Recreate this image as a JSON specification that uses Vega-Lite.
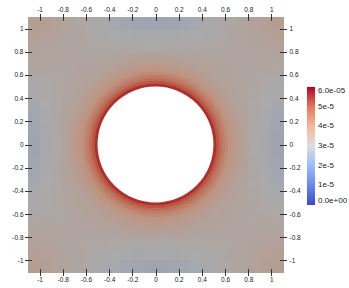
{
  "$schema": "https://vega.github.io/schema/vega-lite/v6.json",
  "autosize": "none",
  "width": 255,
  "height": 255,
  "padding": {"left": 28, "top": 17, "right": 66, "bottom": 16},
  "config": {
    "view": {"stroke": "#444444", "strokeWidth": 1, "fill": "#aca8a6"},
    "font": "Liberation Sans"
  },
  "datasets": {
    "legend": [{"x": -0.1, "y": -0.1, "v": 3}],
    "disks": [
      {"r": 0.8, "v": 3.35}, {"r": 0.775, "v": 3.41}, {"r": 0.75, "v": 3.48}, {"r": 0.725, "v": 3.57},
      {"r": 0.7, "v": 3.67}, {"r": 0.675, "v": 3.8}, {"r": 0.65, "v": 3.96}, {"r": 0.625, "v": 4.15},
      {"r": 0.6, "v": 4.4}, {"r": 0.575, "v": 4.7}, {"r": 0.55, "v": 5.1}, {"r": 0.525, "v": 5.65}
    ],
    "hole": [{"r": 0.5}],
    "g": [
      {"x":-1.1,"y":0,"v":2.78},{"x":-1,"y":0,"v":2.92},{"x":-0.9,"y":0,"v":3.1},{"x":-0.8,"y":0,"v":3.38},{"x":0.7,"y":0,"v":3.38},{"x":0.8,"y":0,"v":3.1},{"x":0.9,"y":0,"v":2.92},{"x":1,"y":0,"v":2.78},
      {"x":-1.1,"y":-0.1,"v":2.78},{"x":-1,"y":-0.1,"v":2.92},{"x":-0.9,"y":-0.1,"v":3.1},{"x":-0.8,"y":-0.1,"v":3.38},{"x":0.7,"y":-0.1,"v":3.38},{"x":0.8,"y":-0.1,"v":3.1},{"x":0.9,"y":-0.1,"v":2.92},{"x":1,"y":-0.1,"v":2.78},
      {"x":-1.1,"y":0.1,"v":2.8},{"x":-1,"y":0.1,"v":2.94},{"x":-0.9,"y":0.1,"v":3.11},{"x":-0.8,"y":0.1,"v":3.36},{"x":0.7,"y":0.1,"v":3.36},{"x":0.8,"y":0.1,"v":3.11},{"x":0.9,"y":0.1,"v":2.94},{"x":1,"y":0.1,"v":2.8},
      {"x":-1.1,"y":-0.2,"v":2.8},{"x":-1,"y":-0.2,"v":2.94},{"x":-0.9,"y":-0.2,"v":3.11},{"x":-0.8,"y":-0.2,"v":3.36},{"x":0.7,"y":-0.2,"v":3.36},{"x":0.8,"y":-0.2,"v":3.11},{"x":0.9,"y":-0.2,"v":2.94},{"x":1,"y":-0.2,"v":2.8},
      {"x":-1.1,"y":0.2,"v":2.85},{"x":-1,"y":0.2,"v":2.96},{"x":-0.9,"y":0.2,"v":3.11},{"x":-0.8,"y":0.2,"v":3.33},{"x":0.7,"y":0.2,"v":3.33},{"x":0.8,"y":0.2,"v":3.11},{"x":0.9,"y":0.2,"v":2.96},{"x":1,"y":0.2,"v":2.85},
      {"x":-1.1,"y":-0.3,"v":2.85},{"x":-1,"y":-0.3,"v":2.96},{"x":-0.9,"y":-0.3,"v":3.11},{"x":-0.8,"y":-0.3,"v":3.33},{"x":0.7,"y":-0.3,"v":3.33},{"x":0.8,"y":-0.3,"v":3.11},{"x":0.9,"y":-0.3,"v":2.96},{"x":1,"y":-0.3,"v":2.85},
      {"x":-1.1,"y":0.3,"v":2.91},{"x":-1,"y":0.3,"v":3.0},{"x":-0.9,"y":0.3,"v":3.12},{"x":-0.8,"y":0.3,"v":3.29},{"x":-0.7,"y":0.3,"v":3.54},{"x":0.6,"y":0.3,"v":3.54},{"x":0.7,"y":0.3,"v":3.29},{"x":0.8,"y":0.3,"v":3.12},{"x":0.9,"y":0.3,"v":3.0},{"x":1,"y":0.3,"v":2.91},
      {"x":-1.1,"y":-0.4,"v":2.91},{"x":-1,"y":-0.4,"v":3.0},{"x":-0.9,"y":-0.4,"v":3.12},{"x":-0.8,"y":-0.4,"v":3.29},{"x":-0.7,"y":-0.4,"v":3.54},{"x":0.6,"y":-0.4,"v":3.54},{"x":0.7,"y":-0.4,"v":3.29},{"x":0.8,"y":-0.4,"v":3.12},{"x":0.9,"y":-0.4,"v":3.0},{"x":1,"y":-0.4,"v":2.91},
      {"x":-1.1,"y":0.4,"v":2.98},{"x":-1,"y":0.4,"v":3.06},{"x":-0.9,"y":0.4,"v":3.15},{"x":-0.8,"y":0.4,"v":3.26},{"x":-0.7,"y":0.4,"v":3.43},{"x":0.6,"y":0.4,"v":3.43},{"x":0.7,"y":0.4,"v":3.26},{"x":0.8,"y":0.4,"v":3.15},{"x":0.9,"y":0.4,"v":3.06},{"x":1,"y":0.4,"v":2.98},
      {"x":-1.1,"y":-0.5,"v":2.98},{"x":-1,"y":-0.5,"v":3.06},{"x":-0.9,"y":-0.5,"v":3.15},{"x":-0.8,"y":-0.5,"v":3.26},{"x":-0.7,"y":-0.5,"v":3.43},{"x":0.6,"y":-0.5,"v":3.43},{"x":0.7,"y":-0.5,"v":3.26},{"x":0.8,"y":-0.5,"v":3.15},{"x":0.9,"y":-0.5,"v":3.06},{"x":1,"y":-0.5,"v":2.98},
      {"x":-1.1,"y":0.5,"v":3.07},{"x":-1,"y":0.5,"v":3.12},{"x":-0.9,"y":0.5,"v":3.18},{"x":-0.8,"y":0.5,"v":3.25},{"x":-0.7,"y":0.5,"v":3.34},{"x":-0.6,"y":0.5,"v":3.48},{"x":0.5,"y":0.5,"v":3.48},{"x":0.6,"y":0.5,"v":3.34},{"x":0.7,"y":0.5,"v":3.25},{"x":0.8,"y":0.5,"v":3.18},{"x":0.9,"y":0.5,"v":3.12},{"x":1,"y":0.5,"v":3.07},
      {"x":-1.1,"y":-0.6,"v":3.07},{"x":-1,"y":-0.6,"v":3.12},{"x":-0.9,"y":-0.6,"v":3.18},{"x":-0.8,"y":-0.6,"v":3.25},{"x":-0.7,"y":-0.6,"v":3.34},{"x":-0.6,"y":-0.6,"v":3.48},{"x":0.5,"y":-0.6,"v":3.48},{"x":0.6,"y":-0.6,"v":3.34},{"x":0.7,"y":-0.6,"v":3.25},{"x":0.8,"y":-0.6,"v":3.18},{"x":0.9,"y":-0.6,"v":3.12},{"x":1,"y":-0.6,"v":3.07},
      {"x":-1.1,"y":0.6,"v":3.16},{"x":-1,"y":0.6,"v":3.19},{"x":-0.9,"y":0.6,"v":3.21},{"x":-0.8,"y":0.6,"v":3.24},{"x":-0.7,"y":0.6,"v":3.28},{"x":-0.6,"y":0.6,"v":3.34},{"x":-0.5,"y":0.6,"v":3.43},{"x":-0.4,"y":0.6,"v":3.54},{"x":0.3,"y":0.6,"v":3.54},{"x":0.4,"y":0.6,"v":3.43},{"x":0.5,"y":0.6,"v":3.34},{"x":0.6,"y":0.6,"v":3.28},{"x":0.7,"y":0.6,"v":3.24},{"x":0.8,"y":0.6,"v":3.21},{"x":0.9,"y":0.6,"v":3.19},{"x":1,"y":0.6,"v":3.16},
      {"x":-1.1,"y":-0.7,"v":3.16},{"x":-1,"y":-0.7,"v":3.19},{"x":-0.9,"y":-0.7,"v":3.21},{"x":-0.8,"y":-0.7,"v":3.24},{"x":-0.7,"y":-0.7,"v":3.28},{"x":-0.6,"y":-0.7,"v":3.34},{"x":-0.5,"y":-0.7,"v":3.43},{"x":-0.4,"y":-0.7,"v":3.54},{"x":0.3,"y":-0.7,"v":3.54},{"x":0.4,"y":-0.7,"v":3.43},{"x":0.5,"y":-0.7,"v":3.34},{"x":0.6,"y":-0.7,"v":3.28},{"x":0.7,"y":-0.7,"v":3.24},{"x":0.8,"y":-0.7,"v":3.21},{"x":0.9,"y":-0.7,"v":3.19},{"x":1,"y":-0.7,"v":3.16},
      {"x":-1.1,"y":0.7,"v":3.26},{"x":-1,"y":0.7,"v":3.26},{"x":-0.9,"y":0.7,"v":3.25},{"x":-0.8,"y":0.7,"v":3.24},{"x":-0.7,"y":0.7,"v":3.24},{"x":-0.6,"y":0.7,"v":3.25},{"x":-0.5,"y":0.7,"v":3.26},{"x":-0.4,"y":0.7,"v":3.29},{"x":-0.3,"y":0.7,"v":3.33},{"x":-0.2,"y":0.7,"v":3.36},{"x":-0.1,"y":0.7,"v":3.38},{"x":0,"y":0.7,"v":3.38},{"x":0.1,"y":0.7,"v":3.36},{"x":0.2,"y":0.7,"v":3.33},{"x":0.3,"y":0.7,"v":3.29},{"x":0.4,"y":0.7,"v":3.26},{"x":0.5,"y":0.7,"v":3.25},{"x":0.6,"y":0.7,"v":3.24},{"x":0.7,"y":0.7,"v":3.24},{"x":0.8,"y":0.7,"v":3.25},{"x":0.9,"y":0.7,"v":3.26},{"x":1,"y":0.7,"v":3.26},
      {"x":-1.1,"y":-0.8,"v":3.26},{"x":-1,"y":-0.8,"v":3.26},{"x":-0.9,"y":-0.8,"v":3.25},{"x":-0.8,"y":-0.8,"v":3.24},{"x":-0.7,"y":-0.8,"v":3.24},{"x":-0.6,"y":-0.8,"v":3.25},{"x":-0.5,"y":-0.8,"v":3.26},{"x":-0.4,"y":-0.8,"v":3.29},{"x":-0.3,"y":-0.8,"v":3.33},{"x":-0.2,"y":-0.8,"v":3.36},{"x":-0.1,"y":-0.8,"v":3.38},{"x":0,"y":-0.8,"v":3.38},{"x":0.1,"y":-0.8,"v":3.36},{"x":0.2,"y":-0.8,"v":3.33},{"x":0.3,"y":-0.8,"v":3.29},{"x":0.4,"y":-0.8,"v":3.26},{"x":0.5,"y":-0.8,"v":3.25},{"x":0.6,"y":-0.8,"v":3.24},{"x":0.7,"y":-0.8,"v":3.24},{"x":0.8,"y":-0.8,"v":3.25},{"x":0.9,"y":-0.8,"v":3.26},{"x":1,"y":-0.8,"v":3.26},
      {"x":-1.1,"y":0.8,"v":3.36},{"x":-1,"y":0.8,"v":3.33},{"x":-0.9,"y":0.8,"v":3.29},{"x":-0.8,"y":0.8,"v":3.25},{"x":-0.7,"y":0.8,"v":3.21},{"x":-0.6,"y":0.8,"v":3.18},{"x":-0.5,"y":0.8,"v":3.15},{"x":-0.4,"y":0.8,"v":3.12},{"x":-0.3,"y":0.8,"v":3.11},{"x":-0.2,"y":0.8,"v":3.11},{"x":-0.1,"y":0.8,"v":3.1},{"x":0,"y":0.8,"v":3.1},{"x":0.1,"y":0.8,"v":3.11},{"x":0.2,"y":0.8,"v":3.11},{"x":0.3,"y":0.8,"v":3.12},{"x":0.4,"y":0.8,"v":3.15},{"x":0.5,"y":0.8,"v":3.18},{"x":0.6,"y":0.8,"v":3.21},{"x":0.7,"y":0.8,"v":3.25},{"x":0.8,"y":0.8,"v":3.29},{"x":0.9,"y":0.8,"v":3.33},{"x":1,"y":0.8,"v":3.36},
      {"x":-1.1,"y":-0.9,"v":3.36},{"x":-1,"y":-0.9,"v":3.33},{"x":-0.9,"y":-0.9,"v":3.29},{"x":-0.8,"y":-0.9,"v":3.25},{"x":-0.7,"y":-0.9,"v":3.21},{"x":-0.6,"y":-0.9,"v":3.18},{"x":-0.5,"y":-0.9,"v":3.15},{"x":-0.4,"y":-0.9,"v":3.12},{"x":-0.3,"y":-0.9,"v":3.11},{"x":-0.2,"y":-0.9,"v":3.11},{"x":-0.1,"y":-0.9,"v":3.1},{"x":0,"y":-0.9,"v":3.1},{"x":0.1,"y":-0.9,"v":3.11},{"x":0.2,"y":-0.9,"v":3.11},{"x":0.3,"y":-0.9,"v":3.12},{"x":0.4,"y":-0.9,"v":3.15},{"x":0.5,"y":-0.9,"v":3.18},{"x":0.6,"y":-0.9,"v":3.21},{"x":0.7,"y":-0.9,"v":3.25},{"x":0.8,"y":-0.9,"v":3.29},{"x":0.9,"y":-0.9,"v":3.33},{"x":1,"y":-0.9,"v":3.36},
      {"x":-1.1,"y":0.9,"v":3.46},{"x":-1,"y":0.9,"v":3.4},{"x":-0.9,"y":0.9,"v":3.33},{"x":-0.8,"y":0.9,"v":3.26},{"x":-0.7,"y":0.9,"v":3.19},{"x":-0.6,"y":0.9,"v":3.12},{"x":-0.5,"y":0.9,"v":3.06},{"x":-0.4,"y":0.9,"v":3.0},{"x":-0.3,"y":0.9,"v":2.96},{"x":-0.2,"y":0.9,"v":2.94},{"x":-0.1,"y":0.9,"v":2.92},{"x":0,"y":0.9,"v":2.92},{"x":0.1,"y":0.9,"v":2.94},{"x":0.2,"y":0.9,"v":2.96},{"x":0.3,"y":0.9,"v":3.0},{"x":0.4,"y":0.9,"v":3.06},{"x":0.5,"y":0.9,"v":3.12},{"x":0.6,"y":0.9,"v":3.19},{"x":0.7,"y":0.9,"v":3.26},{"x":0.8,"y":0.9,"v":3.33},{"x":0.9,"y":0.9,"v":3.4},{"x":1,"y":0.9,"v":3.46},
      {"x":-1.1,"y":-1,"v":3.46},{"x":-1,"y":-1,"v":3.4},{"x":-0.9,"y":-1,"v":3.33},{"x":-0.8,"y":-1,"v":3.26},{"x":-0.7,"y":-1,"v":3.19},{"x":-0.6,"y":-1,"v":3.12},{"x":-0.5,"y":-1,"v":3.06},{"x":-0.4,"y":-1,"v":3.0},{"x":-0.3,"y":-1,"v":2.96},{"x":-0.2,"y":-1,"v":2.94},{"x":-0.1,"y":-1,"v":2.92},{"x":0,"y":-1,"v":2.92},{"x":0.1,"y":-1,"v":2.94},{"x":0.2,"y":-1,"v":2.96},{"x":0.3,"y":-1,"v":3.0},{"x":0.4,"y":-1,"v":3.06},{"x":0.5,"y":-1,"v":3.12},{"x":0.6,"y":-1,"v":3.19},{"x":0.7,"y":-1,"v":3.26},{"x":0.8,"y":-1,"v":3.33},{"x":0.9,"y":-1,"v":3.4},{"x":1,"y":-1,"v":3.46},
      {"x":-1.1,"y":1,"v":3.55},{"x":-1,"y":1,"v":3.46},{"x":-0.9,"y":1,"v":3.36},{"x":-0.8,"y":1,"v":3.26},{"x":-0.7,"y":1,"v":3.16},{"x":-0.6,"y":1,"v":3.07},{"x":-0.5,"y":1,"v":2.98},{"x":-0.4,"y":1,"v":2.91},{"x":-0.3,"y":1,"v":2.85},{"x":-0.2,"y":1,"v":2.8},{"x":-0.1,"y":1,"v":2.78},{"x":0,"y":1,"v":2.78},{"x":0.1,"y":1,"v":2.8},{"x":0.2,"y":1,"v":2.85},{"x":0.3,"y":1,"v":2.91},{"x":0.4,"y":1,"v":2.98},{"x":0.5,"y":1,"v":3.07},{"x":0.6,"y":1,"v":3.16},{"x":0.7,"y":1,"v":3.26},{"x":0.8,"y":1,"v":3.36},{"x":0.9,"y":1,"v":3.46},{"x":1,"y":1,"v":3.55},
      {"x":-1.1,"y":-1.1,"v":3.55},{"x":-1,"y":-1.1,"v":3.46},{"x":-0.9,"y":-1.1,"v":3.36},{"x":-0.8,"y":-1.1,"v":3.26},{"x":-0.7,"y":-1.1,"v":3.16},{"x":-0.6,"y":-1.1,"v":3.07},{"x":-0.5,"y":-1.1,"v":2.98},{"x":-0.4,"y":-1.1,"v":2.91},{"x":-0.3,"y":-1.1,"v":2.85},{"x":-0.2,"y":-1.1,"v":2.8},{"x":-0.1,"y":-1.1,"v":2.78},{"x":0,"y":-1.1,"v":2.78},{"x":0.1,"y":-1.1,"v":2.8},{"x":0.2,"y":-1.1,"v":2.85},{"x":0.3,"y":-1.1,"v":2.91},{"x":0.4,"y":-1.1,"v":2.98},{"x":0.5,"y":-1.1,"v":3.07},{"x":0.6,"y":-1.1,"v":3.16},{"x":0.7,"y":-1.1,"v":3.26},{"x":0.8,"y":-1.1,"v":3.36},{"x":0.9,"y":-1.1,"v":3.46},{"x":1,"y":-1.1,"v":3.55}
    ]
  },
  "resolve": {"axis": {"x": "independent", "y": "independent"}},
  "layer": [
    {
      "data": {"name": "legend"},
      "mark": {"type": "rect", "binSpacing": 0},
      "encoding": {
        "x": {"field": "x", "type": "quantitative", "bin": {"binned": true, "step": 0.1},
          "scale": {"domain": [-1.1, 1.1], "nice": false, "zero": false},
          "axis": {"orient": "bottom", "title": null, "values": [-1,-0.8,-0.6,-0.4,-0.2,0,0.2,0.4,0.6,0.8,1], "labelExpr": "toString(datum.value)",
            "domain": false, "grid": false, "tickSize": 7, "offset": -3.5, "tickColor": "#333333", "labelFontSize": 6.5, "labelColor": "#222222", "labelPadding": 1, "labelFont": "Liberation Sans"}},
        "y": {"field": "y", "type": "quantitative", "bin": {"binned": true, "step": 0.1},
          "scale": {"domain": [-1.1, 1.1], "nice": false, "zero": false},
          "axis": {"orient": "left", "title": null, "values": [-1,-0.8,-0.6,-0.4,-0.2,0,0.2,0.4,0.6,0.8,1], "labelExpr": "toString(datum.value)",
            "domain": false, "grid": false, "tickSize": 7, "offset": -3.5, "tickColor": "#333333", "labelFontSize": 6.5, "labelColor": "#222222", "labelPadding": 1.5, "labelFont": "Liberation Sans"}},
        "color": {"field": "v", "type": "quantitative",
          "scale": {"type": "linear", "domain": [0, 1, 2, 3, 4, 5, 6], "range": ["#3b4cc0", "#6788ee", "#9abbff", "#dddddd", "#f7b89c", "#e7745b", "#b40426"], "interpolate": "rgb"},
          "legend": {"type": "gradient", "orient": "none", "legendX": 279, "legendY": 70, "title": null, "direction": "vertical",
            "gradientLength": 118, "gradientThickness": 8, "gradientStrokeWidth": 0,
            "values": [0, 1, 2, 3, 4, 5, 6], "labelExpr": "datum.value == 6 ? '6.0e-05' : datum.value == 0 ? '0.0e+00' : datum.value + 'e-5'",
            "labelFontSize": 8, "labelColor": "#222222", "labelFont": "Liberation Sans", "labelOffset": 3, "labelOverlap": false, "labelFlush": false}}
      }
    },
    {
      "data": {"name": "g"},
      "mark": {"type": "rect", "binSpacing": -1},
      "encoding": {
        "x": {"field": "x", "type": "quantitative", "bin": {"binned": true, "step": 0.1},
          "scale": {"domain": [-1.1, 1.1], "nice": false, "zero": false},
          "axis": {"orient": "top", "title": null, "values": [-1,-0.8,-0.6,-0.4,-0.2,0,0.2,0.4,0.6,0.8,1], "labelExpr": "toString(datum.value)",
            "domain": false, "grid": false, "tickSize": 7, "offset": -3.5, "tickColor": "#333333", "labelFontSize": 6.5, "labelColor": "#222222", "labelPadding": 1, "labelFont": "Liberation Sans"}},
        "y": {"field": "y", "type": "quantitative", "bin": {"binned": true, "step": 0.1},
          "scale": {"domain": [-1.1, 1.1], "nice": false, "zero": false},
          "axis": {"orient": "right", "title": null, "values": [-1,-0.8,-0.6,-0.4,-0.2,0,0.2,0.4,0.6,0.8,1], "labelExpr": "toString(datum.value)",
            "domain": false, "grid": false, "tickSize": 7, "offset": -3.5, "tickColor": "#333333", "labelFontSize": 6.5, "labelColor": "#222222", "labelPadding": 2.5, "labelFont": "Liberation Sans"}},
        "fill": {"field": "v", "type": "quantitative",
          "scale": {"domain": [0, 1, 2, 3, 4, 5, 6], "range": ["#2d3b94", "#4f69b7", "#7790c4", "#aaaaaa", "#c0927d", "#bb5e48", "#a81420"], "interpolate": "rgb"},
          "legend": null}
      }
    },
    {
      "data": {"name": "disks"},
      "mark": {"type": "arc", "theta": 0, "theta2": 6.2832},
      "encoding": {
        "radius": {"field": "r", "type": "quantitative", "stack": null, "scale": {"type": "linear", "domain": [0, 1.1], "range": [0, 127.5], "nice": false}},
        "fill": {"field": "v", "type": "quantitative",
          "scale": {"domain": [0, 1, 2, 3, 4, 5, 6], "range": ["#2d3b94", "#4f69b7", "#7790c4", "#aaaaaa", "#c0927d", "#bb5e48", "#a81420"], "interpolate": "rgb"},
          "legend": null}
      }
    },
    {
      "data": {"name": "hole"},
      "mark": {"type": "arc", "theta": 0, "theta2": 6.2832, "fill": "#ffffff"},
      "encoding": {
        "radius": {"field": "r", "type": "quantitative", "stack": null, "scale": {"type": "linear", "domain": [0, 1.1], "range": [0, 127.5], "nice": false}}
      }
    }
  ]
}
